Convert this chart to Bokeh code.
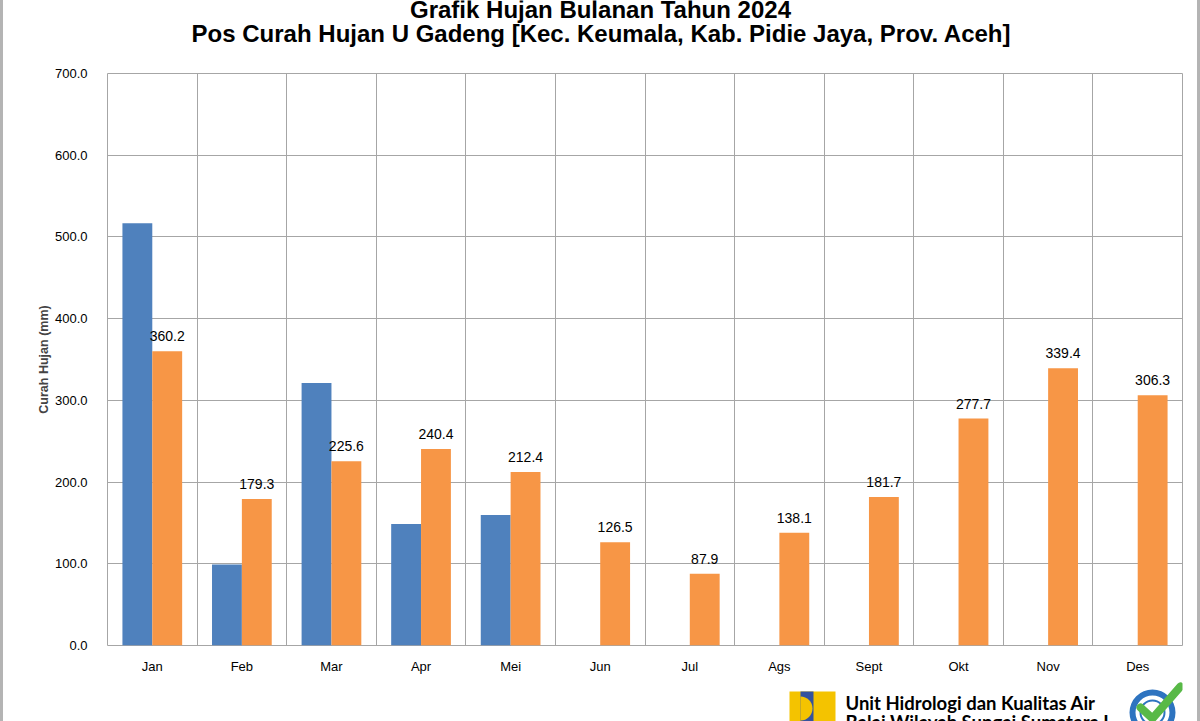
from bokeh.plotting import figure
from bokeh.layouts import column
from bokeh.models import FixedTicker, NumeralTickFormatter, Range1d, LabelSet, ColumnDataSource
from bokeh.core.properties import value
from bokeh.embed import file_html
from bokeh.resources import INLINE

months = ["Jan", "Feb", "Mar", "Apr", "Mei", "Jun", "Jul", "Ags", "Sept", "Okt", "Nov", "Des"]
hujan_2024 = [516.6, 99.1, 321.3, 148.8, 159.8, None, None, None, None, None, None, None]
rata_rata = [360.2, 179.3, 225.6, 240.4, 212.4, 126.5, 87.9, 138.1, 181.7, 277.7, 339.4, 306.3]
y_ticks = [0, 100, 200, 300, 400, 500, 600, 700]

title1 = "Grafik Hujan Bulanan Tahun 2024"
title2 = "Pos Curah Hujan U Gadeng [Kec. Keumala, Kab. Pidie Jaya, Prov. Aceh]"
ylabel = "Curah Hujan (mm)"
footer1 = "Unit Hidrologi dan Kualitas Air"
footer2 = "Balai Wilayah Sungai Sumatera I"

FONT = "Liberation Sans"
GRID = "#a6a6a6"
BLUE = "#4f81bd"
ORANGE = "#f79646"
EDGE = "#b4b4b4"

OX = 3            # grey page border width
FW = 1200 - 2 * OX
HEAD_H, MAIN_H, FOOT_H = 50, 630, 41
FL, FR = 107, 1182   # frame left / right on the page
BL, BR = FL - OX, FW - (FR - OX)


def deco_fig(h, y0):
    # frames in a column are aligned, so give the decoration figures the same borders
    f = figure(width=FW, height=h, output_backend="svg", toolbar_location=None,
               x_range=Range1d(FL, FR), y_range=Range1d(y0 + h, y0),
               x_axis_type=None, y_axis_type=None,
               min_border_left=BL, min_border_right=BR, min_border_top=0, min_border_bottom=0)
    f.outline_line_color = None
    f.grid.visible = False
    f.background_fill_color = "white"
    f.border_fill_color = "white"
    return f


# ---------- header (titles) ----------
head = deco_fig(HEAD_H, 0)
head.text(x=[600], y=[9], text=[title1], text_align="center", text_baseline="alphabetic",
          text_font=value(FONT), text_font_style="bold", text_font_size="24px", text_color="black")
head.text(x=[601], y=[33], text=[title2], text_align="center", text_baseline="middle",
          text_font=value(FONT), text_font_style="bold", text_font_size="24px", text_color="black")

# ---------- main chart ----------
n = len(months)
centers = [i + 0.5 for i in range(n)]
blue_vals = [float("nan") if v is None else v for v in hujan_2024]
src = ColumnDataSource(dict(bx=[c - 1/6 for c in centers], ox=[c + 1/6 for c in centers],
                            b=blue_vals, o=rata_rata, lbl=[f"{v:.1f}" for v in rata_rata]))

p = figure(width=FW, height=MAIN_H, output_backend="svg", toolbar_location=None,
           x_range=Range1d(0, n), y_range=Range1d(0, 700),
           min_border_left=BL, min_border_right=BR,
           min_border_top=73 - HEAD_H, min_border_bottom=HEAD_H + MAIN_H - 645)
p.background_fill_color = "white"
p.border_fill_color = "white"
p.outline_line_color = GRID

p.vbar(x="bx", top="b", width=1/3, bottom=0, source=src, fill_color=BLUE, line_color=None)
p.vbar(x="ox", top="o", width=1/3, bottom=0, source=src, fill_color=ORANGE, line_color=None)
p.add_layout(LabelSet(x="ox", y="o", text="lbl", source=src, text_align="center",
                      text_baseline="alphabetic", y_offset=10, text_font=value(FONT),
                      text_font_size=value("14px"), text_color=value("black")))

p.xaxis.ticker = FixedTicker(ticks=centers)
p.xaxis.major_label_overrides = {c: m for c, m in zip(centers, months)}
p.yaxis.ticker = FixedTicker(ticks=y_ticks)
p.yaxis.formatter = NumeralTickFormatter(format="0.0")
for ax in (p.xaxis[0], p.yaxis[0]):
    ax.axis_line_color = None
    ax.major_tick_line_color = None
    ax.minor_tick_line_color = None
    ax.major_label_text_font = FONT
    ax.major_label_text_font_size = "13px"
    ax.major_label_text_color = "black"
p.xaxis.major_label_standoff = 7
p.yaxis.major_label_standoff = 14
p.yaxis.axis_label = ylabel
p.yaxis.axis_label_text_font = FONT
p.yaxis.axis_label_text_font_style = "bold"
p.yaxis.axis_label_text_font_size = "12.5px"
p.yaxis.axis_label_standoff = 1

p.xgrid.ticker = FixedTicker(ticks=list(range(n + 1)))
p.ygrid.ticker = FixedTicker(ticks=y_ticks)
p.xgrid.grid_line_color = GRID
p.ygrid.grid_line_color = GRID

# ---------- footer (logo) ----------
foot = deco_fig(FOOT_H, HEAD_H + MAIN_H)
foot.quad(left=[789], right=[835], top=[691], bottom=[725], fill_color="#f4c300", line_color=None)
foot.quad(left=[800], right=[813], top=[691], bottom=[725], fill_color="#34529f", line_color=None)
foot.wedge(x=[800], y=[708], radius=12, start_angle=-90, end_angle=90, start_angle_units="deg",
           end_angle_units="deg", fill_color="#f4c300", line_color=None)
foot.text(x=[845], y=[702], text=[footer1], text_align="left", text_baseline="middle",
          text_font=value("Lato"), text_font_style="bold", text_font_size="18.5px", text_color="black")
foot.text(x=[845], y=[721], text=[footer2], text_align="left", text_baseline="middle",
          text_font=value("Lato"), text_font_style="bold", text_font_size="18.5px", text_color="black")
foot.annulus(x=[1152], y=[712], inner_radius=17, outer_radius=23, fill_color="#2e74c0", line_color=None)
foot.annulus(x=[1152], y=[712], inner_radius=11, outer_radius=13, fill_color="#2e74c0", line_color=None)
foot.line(x=[1140, 1152, 1180], y=[707, 718, 686], line_color="#58b947", line_width=8,
          line_join="round", line_cap="round")

layout = column(head, p, foot, spacing=0,
                styles={"border-left": f"{OX}px solid {EDGE}", "border-right": f"{OX}px solid {EDGE}"})

open("out.html", "w").write(file_html(layout, INLINE))
